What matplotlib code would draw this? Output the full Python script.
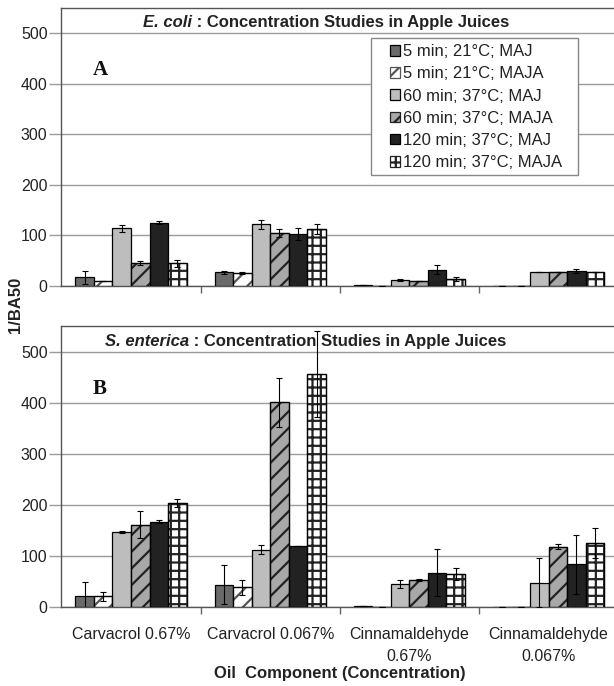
import numpy as np
import matplotlib
matplotlib.use("Agg")
import matplotlib.pyplot as plt
from matplotlib.patches import Rectangle
from matplotlib.offsetbox import TextArea, HPacker, AnchoredOffsetbox

plt.rcParams['font.family'] = ['Liberation Sans', 'DejaVu Sans']
plt.rcParams['hatch.linewidth'] = 1.6

categories = ["Carvacrol 0.67%", "Carvacrol 0.067%", "Cinnamaldehyde\n0.67%", "Cinnamaldehyde\n0.067%"]
series_labels = ["5 min; 21°C; MAJ", "5 min; 21°C; MAJA", "60 min; 37°C; MAJ",
                 "60 min; 37°C; MAJA", "120 min; 37°C; MAJ", "120 min; 37°C; MAJA"]

# panel A - E. coli
ecoli_values = [
    [17, 27, 3, 0],
    [10, 25, 0, 0],
    [114, 122, 12, 27],
    [45, 105, 10, 27],
    [125, 103, 32, 30],
    [45, 113, 14, 27],
]
ecoli_err = [
    [13, 3, 0, 0],
    [0, 2, 0, 0],
    [7, 9, 2, 0],
    [4, 8, 0, 0],
    [3, 12, 9, 4],
    [7, 10, 4, 0],
]

# panel B - S. enterica
sent_values = [
    [21, 43, 2, 0],
    [20, 38, 0, 0],
    [147, 112, 44, 47],
    [161, 401, 53, 118],
    [167, 119, 67, 83],
    [204, 456, 64, 125],
]
sent_err = [
    [27, 38, 0, 0],
    [8, 15, 0, 0],
    [2, 8, 8, 48],
    [27, 48, 2, 4],
    [3, 0, 46, 58],
    [8, 84, 11, 29],
]

yticks = [0, 100, 200, 300, 400, 500]

# style per series: facecolor, hatch, hatch colour
styles = [
    ("#6a6a6a", None, "black"),
    ("white", "//", "#555555"),
    ("#bdbdbd", None, "black"),
    ("#a8a8a8", "//", "#222222"),
    ("#222222", None, "black"),
    ("white", "++", "#222222"),
]

TXT = "#222222"
GRID = "#9a9a9a"


def draw_panel(ax, values, errs, letter, species, title_x, show_labels):
    x = np.arange(len(categories))
    w = 0.133
    for i, (vals, err) in enumerate(zip(values, errs)):
        fc, hatch, hc = styles[i]
        b = ax.bar(x + (i - 2.5) * w, vals, w, yerr=err, color=fc,
                   edgecolor="black", linewidth=0.9, hatch=hatch,
                   label=series_labels[i], zorder=3,
                   error_kw=dict(ecolor="black", elinewidth=0.8, capsize=2.2, capthick=0.8, zorder=4))
        if hatch:
            for p in b.patches:
                p.set_edgecolor(hc)
            # outline stays black
            ax.bar(x + (i - 2.5) * w, vals, w, fill=False, edgecolor="black",
                   linewidth=0.9, zorder=3.5)

    ax.set_xlim(-0.5, 3.5)
    ax.set_ylim(0, 550)
    ax.set_yticks(yticks)
    ax.yaxis.grid(True, color=GRID, linewidth=1.0, zorder=0)
    ax.set_axisbelow(True)
    ax.tick_params(axis="y", length=9, width=1, color=GRID, pad=1,
                   labelsize=11.5, labelcolor=TXT)

    ax.set_xticks(x)
    ax.set_xticks([0.5, 1.5, 2.5], minor=True)
    ax.tick_params(axis="x", which="major", length=0, pad=14.5,
                   labelsize=11.5, labelcolor=TXT)
    ax.tick_params(axis="x", which="minor", length=5, width=1, color="#666666")
    if show_labels:
        ax.set_xticklabels(categories, linespacing=1.6)
    else:
        ax.set_xticklabels([])

    for s in ax.spines.values():
        s.set_color("#555555")
        s.set_linewidth(1.0)

    ax.text(0.056, 0.776, letter, transform=ax.transAxes, va="center", ha="left",
            fontsize=15, fontweight="bold", family="Liberation Serif", color="#111111")

    t1 = TextArea(species, textprops=dict(fontsize=12, fontweight="bold", style="italic", color=TXT))
    t2 = TextArea(" : Concentration Studies in Apple Juices",
                  textprops=dict(fontsize=12, fontweight="bold", color=TXT))
    box = HPacker(children=[t1, t2], align="baseline", pad=0, sep=0)
    anchored = AnchoredOffsetbox(loc="center", child=box, pad=0, frameon=False,
                                 bbox_to_anchor=(title_x, 0.946),
                                 bbox_transform=ax.transAxes, borderpad=0)
    ax.add_artist(anchored)


fig = plt.figure(figsize=(6.14, 6.86), dpi=100)
ax1 = fig.add_axes([0.100, 0.583, 0.907, 0.406])
ax2 = fig.add_axes([0.100, 0.1156, 0.907, 0.409])

draw_panel(ax1, ecoli_values, ecoli_err, "A", "E. coli", 0.476, False)
draw_panel(ax2, sent_values, sent_err, "B", "S. enterica", 0.438, True)

# legend box drawn separately (wider side padding than the legend frame allows)
ax1.add_patch(Rectangle((0.5566, 0.398), 0.3714, 0.4918, transform=ax1.transAxes,
                        facecolor="white", edgecolor="#888888", linewidth=1.0, zorder=8))
leg = ax1.legend(loc="upper left", bbox_to_anchor=(0.590, 0.868), borderaxespad=0,
                 fontsize=12, frameon=False,
                 handlelength=0.6, handleheight=0.6, handletextpad=0.2,
                 labelspacing=0.43, borderpad=0, labelcolor=TXT)
leg.set_zorder(10)

fig.text(0.553, 0.0175, "Oil  Component (Concentration)", ha="center", va="center",
         fontsize=12, fontweight="bold", color=TXT)
fig.text(0.025, 0.555, "1/BA50", rotation=90, ha="center", va="center",
         fontsize=12, fontweight="bold", color=TXT)

fig.savefig("out.png", dpi=100)
